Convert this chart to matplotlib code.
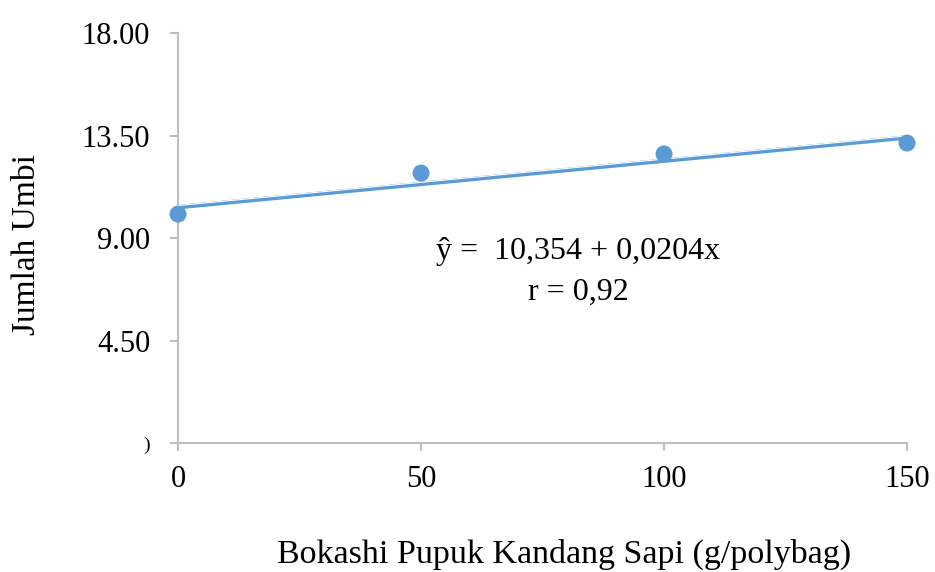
import matplotlib.pyplot as plt
import numpy as np

# data
dosis = [0, 50, 100, 150]
jumlah_umbi = [10.05, 11.85, 12.69, 13.17]
intercept = 10.354
slope = 0.0204
y_ticks = [0, 4.5, 9.0, 13.5, 18.0]
y_tick_labels = [")", "4.50", "9.00", "13.50", "18.00"]
x_ticks = [0, 50, 100, 150]

plt.rcParams['font.family'] = ['Liberation Serif', 'DejaVu Serif']
blue = '#5b9bd5'
gray = '#bfbfbf'

fig = plt.figure(figsize=(9.35, 5.72), dpi=100)
ax = fig.add_axes([0.1904, 0.2255, 0.7797, 0.7168])

# trend line (double-line look)
xs = np.array([0, 150])
ys = intercept + slope * xs
ax.plot(xs, ys, color=blue, lw=3.2, solid_capstyle='butt', zorder=2)
ax.plot(xs, ys + 0.07, color='white', lw=0.8, solid_capstyle='butt', zorder=3)

ax.scatter(dosis, jumlah_umbi, s=150, color=blue, zorder=4, edgecolors='none',
           clip_on=False)

ax.set_xlim(0, 150)
ax.set_ylim(0, 18)
ax.set_xticks(x_ticks)
ax.set_xticklabels([str(v) for v in x_ticks], fontsize=22)
ax.set_yticks(y_ticks)
ax.set_yticklabels(y_tick_labels, fontsize=22)
ax.get_yticklabels()[0].set_fontsize(14)
ax.tick_params(axis='both', colors=gray, length=6, width=1.5, labelcolor='black')
ax.tick_params(axis='x', pad=10)
ax.tick_params(axis='y', pad=14)

for side in ['top', 'right']:
    ax.spines[side].set_visible(False)
for side in ['left', 'bottom']:
    ax.spines[side].set_color(gray)
    ax.spines[side].set_linewidth(1.5)

ax.text(82.4, 8.4, "ŷ =  10,354 + 0,0204x", fontsize=23, ha='center', va='center')
ax.text(82.4, 6.6, "r = 0,92", fontsize=23, ha='center', va='center')

fig.text(0.603, 0.03, "Bokashi Pupuk Kandang Sapi (g/polybag)", fontsize=24.5,
         ha='center', va='center')
fig.text(0.029, 0.572, "Jumlah Umbi", fontsize=24, rotation=90,
         ha='center', va='center')

fig.savefig('out.png', dpi=100)
